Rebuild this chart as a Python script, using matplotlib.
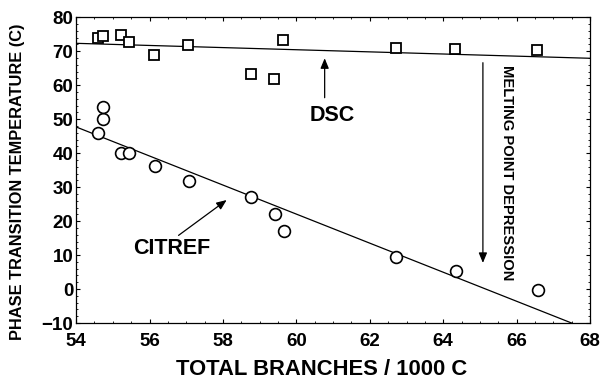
import matplotlib
matplotlib.use("Agg")
import matplotlib.pyplot as plt
from matplotlib.ticker import MultipleLocator

plt.rcParams['font.family'] = ['Liberation Sans', 'DejaVu Sans']
plt.rcParams['font.weight'] = 'bold'

# DSC melting temperatures (squares)
dsc_branches = [54.59, 54.73, 55.23, 55.44, 56.13, 57.06, 58.77, 59.40, 59.63, 62.71, 64.33, 66.55]
dsc_temp = [73.8, 74.5, 74.7, 72.7, 68.8, 71.7, 63.2, 61.8, 73.2, 71.0, 70.7, 70.3]

# CITREF temperatures (circles)
citref_branches = [54.61, 54.72, 54.72, 55.21, 55.45, 56.15, 57.08, 58.77, 59.42, 59.67, 62.72, 64.35, 66.57]
citref_temp = [45.9, 49.9, 53.7, 39.9, 39.9, 36.1, 31.9, 27.0, 22.1, 17.2, 9.4, 5.3, -0.35]

# Regression lines (end points)
dsc_fit_x = [54.0, 68.0]
dsc_fit_y = [72.3, 67.9]
citref_fit_x = [54.0, 67.5]
citref_fit_y = [47.7, -10.0]

x_ticks = [54, 56, 58, 60, 62, 64, 66, 68]
y_ticks = [-10, 0, 10, 20, 30, 40, 50, 60, 70, 80]

fig = plt.figure(figsize=(6.04, 3.81), dpi=100)
ax = fig.add_axes([0.126, 0.152, 0.851, 0.803])

ax.plot(dsc_fit_x, dsc_fit_y, color='black', lw=0.9)
ax.plot(citref_fit_x, citref_fit_y, color='black', lw=0.9)
ax.plot(dsc_branches, dsc_temp, linestyle='none', marker='s', ms=7.5,
        mfc='white', mec='black', mew=1.3)
ax.plot(citref_branches, citref_temp, linestyle='none', marker='o', ms=8.5,
        mfc='white', mec='black', mew=1.2)

ax.set_xlim(54, 68)
ax.set_ylim(-10, 80)
ax.set_xticks(x_ticks)
ax.set_yticks(y_ticks)
ax.xaxis.set_minor_locator(MultipleLocator(0.5))
ax.yaxis.set_minor_locator(MultipleLocator(2))
ax.tick_params(which='both', direction='in', top=True, right=True)
ax.tick_params(which='major', length=3, width=0.8, labelsize=13.5)
ax.tick_params(axis='x', which='major', pad=7)
ax.tick_params(axis='y', which='major', pad=2)
ax.tick_params(which='minor', length=1.5, width=0.6)
for lbl in ax.get_xticklabels() + ax.get_yticklabels():
    lbl.set_fontweight('bold')
for sp in ax.spines.values():
    sp.set_linewidth(0.9)

ax.set_xlabel('TOTAL BRANCHES / 1000 C', fontsize=15.8, fontweight='bold')
ax.set_ylabel('PHASE TRANSITION TEMPERATURE (C)', fontsize=11.8, fontweight='bold')
ax.xaxis.set_label_coords(0.477, -0.118)
ax.yaxis.set_label_coords(-0.099, 0.461)

arrow_kw = dict(arrowstyle='-|>,head_length=0.6,head_width=0.25', color='black', lw=0.9,
                shrinkA=0, shrinkB=0)

ax.annotate('', xy=(60.77, 67.9), xytext=(60.77, 56.3), arrowprops=arrow_kw)
ax.text(60.98, 51.0, 'DSC', fontsize=15.5, fontweight='bold', ha='center', va='center')

ax.annotate('', xy=(58.1, 26.2), xytext=(56.79, 15.8), arrowprops=arrow_kw)
ax.text(56.6, 11.9, 'CITREF', fontsize=15.5, fontweight='bold', ha='center', va='center')

ax.annotate('', xy=(65.08, 7.7), xytext=(65.08, 66.6), arrowprops=arrow_kw)
ax.text(65.74, 34.1, 'MELTING POINT DEPRESSION', fontsize=10.6, fontweight='bold',
        rotation=270, ha='center', va='center')

fig.savefig('out.png', dpi=100)
